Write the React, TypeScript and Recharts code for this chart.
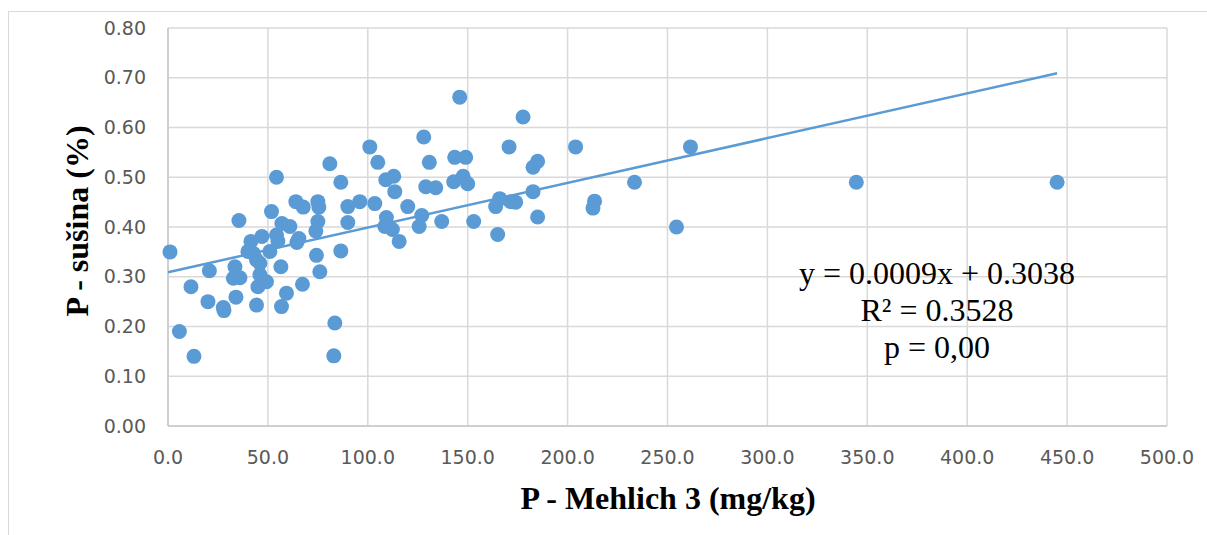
import { ScatterChart, Scatter, XAxis, YAxis, CartesianGrid } from 'recharts';

// P - Mehlich 3 (mg/kg)
const mehlich = [
  1, 5.7, 11.5, 13, 20.7, 20, 27.7, 28, 34, 35.5,
  33.5, 32.7, 36, 41.5, 40, 42.7, 44.3, 46, 47, 51,
  46, 49.3, 45, 44.3, 54.3, 51.8, 54.3, 55, 56.5, 56.8,
  59.3, 57, 61, 64, 67.7, 65.5, 64.5, 67.3, 75, 75.5,
  75, 74, 74.3, 76, 81, 83.5, 83, 86.5, 86.5, 90,
  90, 96, 101, 103.5, 105, 109, 113, 113.5, 109.3, 108.5,
  112.3, 115.7, 120, 127, 125.7, 128, 130.8, 129, 134, 137,
  143.5, 149, 143, 147.7, 150, 146, 153, 165, 166, 164,
  171.5, 174, 170.7, 177.7, 182.7, 185, 182.7, 185, 204, 213.5,
  212.7, 233.5, 254.5, 261.5, 344.5, 445,
];

// P - sušina (%)
const susina = [
  0.35, 0.19, 0.28, 0.14, 0.312, 0.25, 0.238, 0.232, 0.259, 0.413,
  0.32, 0.297, 0.298, 0.371, 0.351, 0.347, 0.334, 0.327, 0.381, 0.351,
  0.304, 0.29, 0.28, 0.243, 0.5, 0.431, 0.384, 0.372, 0.32, 0.24,
  0.267, 0.407, 0.401, 0.451, 0.44, 0.377, 0.369, 0.285, 0.451, 0.44,
  0.411, 0.392, 0.343, 0.31, 0.527, 0.207, 0.141, 0.352, 0.49, 0.441,
  0.409, 0.451, 0.561, 0.447, 0.53, 0.495, 0.502, 0.471, 0.419, 0.401,
  0.395, 0.371, 0.441, 0.423, 0.401, 0.581, 0.53, 0.481, 0.479, 0.411,
  0.54, 0.54, 0.491, 0.502, 0.487, 0.661, 0.411, 0.385, 0.457, 0.441,
  0.451, 0.45, 0.561, 0.621, 0.52, 0.532, 0.471, 0.42, 0.561, 0.452,
  0.438, 0.49, 0.4, 0.561, 0.49, 0.49,
];

// linear trendline end points
const trendX = [0, 445];
const trendY = [0.309, 0.709];

const xTicks = [0, 50, 100, 150, 200, 250, 300, 350, 400, 450, 500];
const yTicks = [0, 0.1, 0.2, 0.3, 0.4, 0.5, 0.6, 0.7, 0.8];

const xTitle = 'P - Mehlich 3 (mg/kg)';
const yTitle = 'P - sušina (%)';
const equationLines = ['y = 0.0009x + 0.3038', 'R² = 0.3528', 'p = 0,00'];

const points = mehlich.map((x, i) => ({ x, y: susina[i] }));
const trend = trendX.map((x, i) => ({ x, y: trendY[i] }));

const BLUE = '#5b9bd5';
const tickStyle = { fill: '#595959', fontSize: 19, fontFamily: 'DejaVu Sans' };
const serif = '"Liberation Serif", "Times New Roman", serif';

export default function App() {
  return (
    <div style={{ position: 'fixed', left: 0, top: 0, width: 1207, height: 535, background: '#fff', overflow: 'hidden' }}>
      <div
        style={{
          position: 'absolute',
          left: 8,
          top: 11,
          width: 1400,
          height: 700,
          borderTop: '1.5px solid #d9d9d9',
          borderLeft: '1.5px solid #d9d9d9',
        }}
      />
      <ScatterChart width={1207} height={535} margin={{ top: 28, right: 40, left: 0, bottom: 0 }}>
        <CartesianGrid stroke="#d9d9d9" strokeWidth={1.5} />
        <XAxis
          dataKey="x"
          type="number"
          domain={[0, 500]}
          ticks={xTicks}
          tickFormatter={(v: number) => v.toFixed(1)}
          height={109}
          tick={tickStyle}
          tickLine={false}
          tickSize={0}
          tickMargin={25}
          axisLine={{ stroke: '#c8c8c8', strokeWidth: 1.5 }}
          interval={0}
        />
        <YAxis
          dataKey="y"
          type="number"
          domain={[0, 0.8]}
          ticks={yTicks}
          tickFormatter={(v: number) => v.toFixed(2)}
          width={168}
          tick={tickStyle}
          tickLine={false}
          tickSize={0}
          tickMargin={22}
          axisLine={{ stroke: '#c8c8c8', strokeWidth: 1.5 }}
          interval={0}
        />
        <Scatter
          data={points}
          isAnimationActive={false}
          shape={(p: any) => <circle cx={p.cx} cy={p.cy} r={7.5} fill={BLUE} />}
        />
        <Scatter
          data={trend}
          isAnimationActive={false}
          line={{ stroke: BLUE, strokeWidth: 2.5 }}
          lineType="joint"
          shape={() => <g />}
        />
      </ScatterChart>
      <div
        style={{
          position: 'absolute',
          left: 468,
          top: 482,
          width: 400,
          textAlign: 'center',
          fontFamily: serif,
          fontWeight: 'bold',
          fontSize: 32,
          lineHeight: '32px',
          color: '#000',
          whiteSpace: 'nowrap',
        }}
      >
        {xTitle}
      </div>
      <div
        style={{
          position: 'absolute',
          left: 77,
          top: 221,
          transform: 'translate(-50%, -50%) rotate(-90deg)',
          fontFamily: serif,
          fontWeight: 'bold',
          fontSize: 32,
          lineHeight: '32px',
          color: '#000',
          whiteSpace: 'nowrap',
        }}
      >
        {yTitle}
      </div>
      <div
        style={{
          position: 'absolute',
          left: 737,
          top: 255,
          width: 400,
          textAlign: 'center',
          fontFamily: serif,
          fontSize: 32,
          lineHeight: '37px',
          color: '#000',
        }}
      >
        {equationLines.map((t) => (
          <div key={t}>{t}</div>
        ))}
      </div>
    </div>
  );
}
